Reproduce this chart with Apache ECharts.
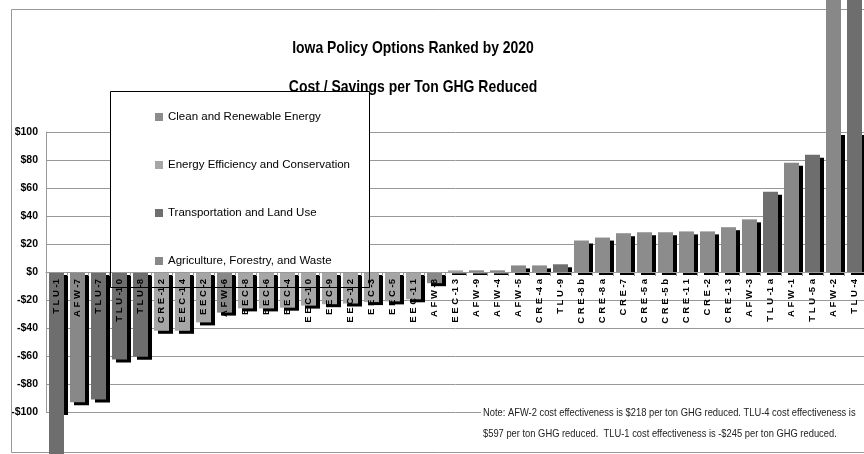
<!DOCTYPE html>
<html>
<head>
<meta charset="utf-8">
<script src="https://cdn.jsdelivr.net/npm/echarts@6/dist/echarts.min.js"></script>
<style>
	html, body { margin: 0; padding: 0; background: #fff; }
	#chart { width: 864px; height: 454px; }
</style>
</head>
<body>
<div id="chart"></div>
<script>
// policy options, ranked by 2020 cost / savings per ton GHG reduced
var categories = ['TLU-1', 'AFW-7', 'TLU-7', 'TLU-10', 'TLU-8', 'CRE-12', 'EEC-14', 'EEC-2', 'AFW-6', 'EEC-8',
	'EEC-6', 'EEC-4', 'EEC-10', 'EEC-9', 'EEC-12', 'EEC-3', 'EEC-5', 'EEC-11', 'AFW-8', 'EEC-13',
	'AFW-9', 'AFW-4', 'AFW-5', 'CRE-4a', 'TLU-9', 'CRE-8b', 'CRE-8a', 'CRE-7', 'CRE-5a', 'CRE-5b',
	'CRE-11', 'CRE-2', 'CRE-13', 'AFW-3', 'TLU-1a', 'AFW-1', 'TLU-5a', 'AFW-2', 'TLU-4'];

// $ per ton (AFW-2, TLU-4 and TLU-1 from the note)
var costs = [-245, -93, -91, -62.5, -60.5, -42, -42, -36, -29, -26,
	-26, -25.5, -24, -23, -22.5, -21.5, -21, -19.5, -8, 1.2,
	1.2, 1.2, 4.7, 4.7, 5.5, 22.5, 24.6, 27.7, 28.4, 28.4,
	29, 29, 32, 37.6, 57.4, 78, 83.7, 218, 597];

// shade each bar is drawn in (CRE-12 is shaded like the efficiency bars)
var sectorOf = ['TLU', 'AFW', 'TLU', 'TLU', 'TLU', 'EEC', 'EEC', 'EEC', 'AFW', 'EEC',
	'EEC', 'EEC', 'EEC', 'EEC', 'EEC', 'EEC', 'EEC', 'EEC', 'AFW', 'EEC',
	'AFW', 'AFW', 'AFW', 'CRE', 'TLU', 'CRE', 'CRE', 'CRE', 'CRE', 'CRE',
	'CRE', 'CRE', 'CRE', 'AFW', 'TLU', 'AFW', 'TLU', 'AFW', 'TLU'];

var sectorCodes = ['CRE', 'EEC', 'TLU', 'AFW'];
var sectorNames = ['Clean and Renewable Energy', 'Energy Efficiency and Conservation', 'Transportation and Land Use', 'Agriculture, Forestry, and Waste'];
var sectorColors = ['#8c8c8c', '#a6a6a6', '#6e6e6e', '#888888'];

var yTicks = { min: -100, max: 100, step: 20 };

var titleLines = ['Iowa Policy Options Ranked by 2020', 'Cost / Savings per Ton GHG Reduced'];
var noteLines = [
	'Note: AFW-2 cost effectiveness is $218 per ton GHG reduced. TLU-4 cost effectiveness is',
	'$597 per ton GHG reduced.  TLU-1 cost effectiveness is -$245 per ton GHG reduced.'
];


var sans = '"Liberation Sans", Arial, sans-serif';

var chart = echarts.init(document.getElementById('chart'));

var series = [];
for (var s = 0; s < sectorCodes.length; s++) {
	var d = [];
	for (var i = 0; i < categories.length; i++) {
		d.push(sectorOf[i] === sectorCodes[s] ? costs[i] : null);
	}
	series.push({
		name: sectorNames[s],
		type: 'bar',
		stack: 'all',
		barWidth: 15,
		clip: false,
		z: 3,
		silent: true,
		itemStyle: { color: sectorColors[s] },
		data: d
	});
}

// black drop shadow, cut off at the axis limits
series.push({
	name: 'shadow',
	type: 'bar',
	xAxisIndex: 1,
	yAxisIndex: 1,
	barWidth: 15,
	clip: true,
	z: 2,
	silent: true,
	itemStyle: { color: '#000' },
	data: costs
});

function moneyLabel(v) {
	return v < 0 ? '-$' + Math.abs(v) : '$' + v;
}

function spacedLabel(name) {
	return name.split('').join(' ').replace('- ', '-');
}

// the original uses narrow fonts, squeeze the texts sideways
var texts = [
	{ type: 'text', silent: true, z: 11, x: 413, y: 48, scaleX: 0.82,
		style: { text: titleLines[0], font: 'bold 17px ' + sans, fill: '#000', align: 'center', verticalAlign: 'middle' } },
	{ type: 'text', silent: true, z: 11, x: 413, y: 87, scaleX: 0.82,
		style: { text: titleLines[1], font: 'bold 17px ' + sans, fill: '#000', align: 'center', verticalAlign: 'middle' } },
	{ type: 'text', silent: true, z: 11, x: 483, y: 413, scaleX: 0.85,
		style: { text: noteLines[0], font: '11px ' + sans, fill: '#222', align: 'left', verticalAlign: 'middle' } },
	{ type: 'text', silent: true, z: 11, x: 483, y: 434, scaleX: 0.85,
		style: { text: noteLines[1], font: '11px ' + sans, fill: '#222', align: 'left', verticalAlign: 'middle' } }
];

// grid 0: bars, grid 1: shadows, grid 2: ends at $0 and carries the category labels
var option = {
	animation: false,
	legend: {
		data: sectorNames,
		orient: 'vertical',
		left: 155,
		top: 111,
		padding: 0,
		itemGap: 36,
		itemWidth: 8,
		itemHeight: 8,
		icon: 'rect',
		selectedMode: false,
		z: 6,
		textStyle: { fontSize: 11.5, fontFamily: sans, color: '#000', lineHeight: 12 }
	},
	graphic: [
		{ type: 'rect', silent: true, z: 1, shape: { x: 11.5, y: 9.5, width: 900, height: 443 }, style: { fill: 'none', stroke: '#999', lineWidth: 1 } },
		{ type: 'rect', silent: true, z: 1, shape: { x: 110, y: 91, width: 259, height: 196 }, style: { fill: '#fff' } },
		{ type: 'rect', silent: true, z: 1, shape: { x: 481, y: 405, width: 400, height: 38 }, style: { fill: '#fff' } },
		{ type: 'rect', silent: true, z: 10, shape: { x: 110.5, y: 91.5, width: 259, height: 196 }, style: { fill: 'none', stroke: '#000', lineWidth: 1 } }
	].concat(texts),
	grid: [
		{ left: 46, top: 132, right: -1, height: 280, outerBoundsMode: 'none', containLabel: false },
		{ left: 50, top: 135, right: -5, height: 280, outerBoundsMode: 'none', containLabel: false },
		{ left: 46, top: 132, right: -1, height: 140, outerBoundsMode: 'none', containLabel: false }
	],
	xAxis: [
		{ type: 'category', gridIndex: 0, data: categories, axisLine: { show: false }, axisTick: { show: false }, axisLabel: { show: false } },
		{ type: 'category', gridIndex: 1, data: categories, show: false },
		{
			type: 'category',
			gridIndex: 2,
			data: categories,
			position: 'bottom',
			z: 5,
			axisLine: { show: true, lineStyle: { color: '#999' } },
			axisTick: { show: true, length: 4, lineStyle: { color: '#999' } },
			axisLabel: {
				rotate: 90,
				interval: 0,
				margin: 7,
				fontSize: 9.5,
				fontWeight: 'bold',
				fontFamily: sans,
				color: '#000',
				formatter: spacedLabel
			},
			splitLine: { show: false }
		}
	],
	yAxis: [
		{
			type: 'value',
			gridIndex: 0,
			min: yTicks.min,
			max: yTicks.max,
			interval: yTicks.step,
			z: 0,
			axisLine: { show: true, lineStyle: { color: '#999' } },
			axisTick: { show: false },
			splitLine: { show: true, lineStyle: { color: '#999' } },
			axisLabel: { margin: 8, fontSize: 10.5, fontWeight: 'bold', fontFamily: sans, color: '#000', formatter: moneyLabel }
		},
		{ type: 'value', gridIndex: 1, min: yTicks.min, max: yTicks.max, show: false },
		{ type: 'value', gridIndex: 2, min: 0, max: yTicks.max, show: false }
	],
	series: series
};

chart.setOption(option);
</script>
</body>
</html>
